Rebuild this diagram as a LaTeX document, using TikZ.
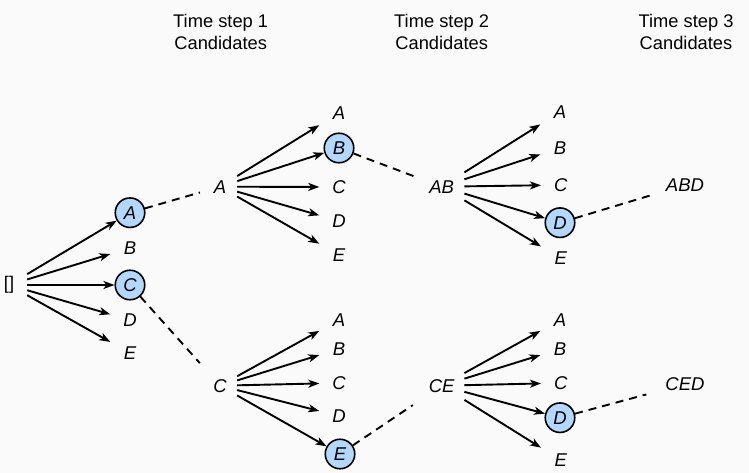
\documentclass[tikz,border=0pt]{standalone}
\usepackage{fontspec}
\setmainfont{Liberation Sans}
\usetikzlibrary{arrows.meta}
\definecolor{bgc}{RGB}{250,250,250}
\definecolor{selblue}{RGB}{179,215,253}
\tikzset{
  every node/.style={font=\fontsize{18.3}{22}\selectfont, inner sep=0pt},
  lbl/.style={font=\fontsize{18.5}{22}\selectfont\itshape},
  tgt/.style={lbl, rectangle, minimum width=39pt, minimum height=26pt},
  sel/.style={lbl, circle, draw=black, line width=1.6pt, fill=selblue, minimum size=29.5pt},
  srcA/.style={lbl, rectangle, minimum width=34pt, minimum height=24pt},
  srcB/.style={lbl, rectangle, minimum width=45pt, minimum height=30pt},
  fin/.style={lbl, rectangle, minimum width=46pt, minimum height=24pt},
  hdr/.style={anchor=base},
  arr/.style={-{Stealth[length=11pt,width=8pt,inset=3pt]}, line width=1.9pt},
  beam/.style={line width=1.9pt, dash pattern=on 8pt off 6pt}
}
\begin{document}
\begin{tikzpicture}[x=1pt,y=-1pt]
\fill[bgc] (0,0) rectangle (749,473);
\useasboundingbox (0,0) rectangle (749,473);

% headers
\node[hdr] (h1a) at (220.7,28) {Time step 1};
\node[hdr] (h1b) at (220.7,49.5) {Candidates};
\node[hdr] (h2a) at (441.7,28) {Time step 2};
\node[hdr] (h2b) at (441.7,49.5) {Candidates};
\node[hdr] (h3a) at (686,28) {Time step 3};
\node[hdr] (h3b) at (686,49.5) {Candidates};

% root
\node[rectangle, minimum width=36pt, minimum height=30pt] (root) at (9,285) {[]};

% level 1
\node[sel] (a1) at (130,212.7) {A};
\node[tgt] (b1) at (130,248) {B};
\node[sel] (c1) at (130,285) {C};
\node[tgt] (d1) at (130,320) {D};
\node[tgt] (e1) at (130,353) {E};
\foreach \t in {a1,b1,c1,d1,e1} \draw[arr] (root) -- (\t);

% level 1 sources
\node[srcA] (sA) at (220,186.7) {A};
\node[srcA] (sC) at (220,385.7) {C};
\draw[beam, shorten >=3pt] (a1) -- (sA);
\draw[beam, shorten >=14pt] (c1) -- (sC);

% level 2 upper
\node[tgt] (uA) at (339,113) {A};
\node[sel] (uB) at (339,148) {B};
\node[tgt] (uC) at (339,187) {C};
\node[tgt] (uD) at (339,221) {D};
\node[tgt] (uE) at (339,255) {E};
\foreach \t in {uA,uB,uC,uD,uE} \draw[arr] (sA) -- (\t);

% level 2 lower
\node[tgt] (lA) at (339,320) {A};
\node[tgt] (lB) at (339,349) {B};
\node[tgt] (lC) at (339,383) {C};
\node[tgt] (lD) at (339,416) {D};
\node[sel] (lE) at (340,454) {E};
\foreach \t in {lA,lB,lC,lD,lE} \draw[arr] (sC) -- (\t);

% level 2 sources
\node[srcB] (sAB) at (441.7,186.7) {AB};
\node[srcB] (sCE) at (441.7,385.7) {CE};
\draw[beam, shorten >=1pt] (uB) -- (sAB);
\draw[beam, shorten >=7.5pt] (lE) -- (sCE);

% level 3 upper
\node[tgt] (vA) at (560,112) {A};
\node[tgt] (vB) at (560,148) {B};
\node[tgt] (vC) at (560.7,185) {C};
\node[sel] (vD) at (560,222.7) {D};
\node[tgt] (vE) at (560.7,258.3) {E};
\foreach \t in {vA,vB,vC,vD,vE} \draw[arr] (sAB) -- (\t);

% level 3 lower
\node[tgt] (wA) at (560,320) {A};
\node[tgt] (wB) at (560,349) {B};
\node[tgt] (wC) at (560.7,383) {C};
\node[sel] (wD) at (560,417.7) {D};
\node[tgt] (wE) at (560.7,460) {E};
\foreach \t in {wA,wB,wC,wD,wE} \draw[arr] (sCE) -- (\t);

% finals
\node[fin] (ABD) at (685,185) {ABD};
\node[fin] (CED) at (685,384) {CED};
\draw[beam, shorten >=7.5pt] (vD) -- (ABD);
\draw[beam, shorten >=16pt] (wD) -- (CED);
\end{tikzpicture}
\end{document}
